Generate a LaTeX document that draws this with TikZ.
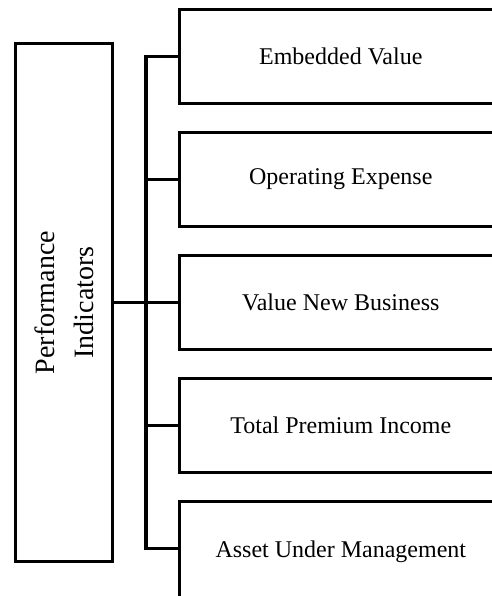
\documentclass[tikz,border=0pt]{standalone}
\usepackage{fontspec}
\setmainfont{Liberation Serif}
\usetikzlibrary{positioning}

\tikzset{
  kpi/.style={draw, line width=1.8pt, outer sep=0pt, minimum width=161.25pt,
    minimum height=47pt, font=\fontsize{12}{14}\selectfont},
  group/.style={draw, line width=1.8pt, outer sep=0pt, rotate=90, align=center,
    minimum width=259pt, minimum height=48.5pt, font=\fontsize{14}{19.5}\selectfont},
  link/.style={line width=1.8pt}
}

\begin{document}
\begin{tikzpicture}[x=1pt,y=1pt]
\useasboundingbox (0,0) rectangle (246,298);
\clip (0,0) rectangle (246,298);

% left block
\node[group] (perf) at (32,146.75) {Performance\\Indicators};

% indicator boxes
\node[kpi] (ev) at (170.4,269.75) {Embedded Value};
\node[kpi, below=14.5pt of ev] (oe) {Operating Expense};
\node[kpi, below=14.5pt of oe] (vnb) {Value New Business};
\node[kpi, below=14.5pt of vnb] (tpi) {Total Premium Income};
\node[kpi, below=14.5pt of tpi, minimum height=50pt] (aum) {Asset Under Management};

% connectors
\coordinate (trunk) at (73,0);
\coordinate (aumw) at ([yshift=1.5pt]aum.west);
\draw[link] (ev.west) -- (ev.west -| trunk) -- (aumw -| trunk) -- (aumw);
\foreach \b in {oe,vnb,tpi}
  \draw[link] (\b.west) -- (\b.west -| trunk);
\draw[link] (perf.south) -- (vnb.west -| trunk);
\end{tikzpicture}
\end{document}
